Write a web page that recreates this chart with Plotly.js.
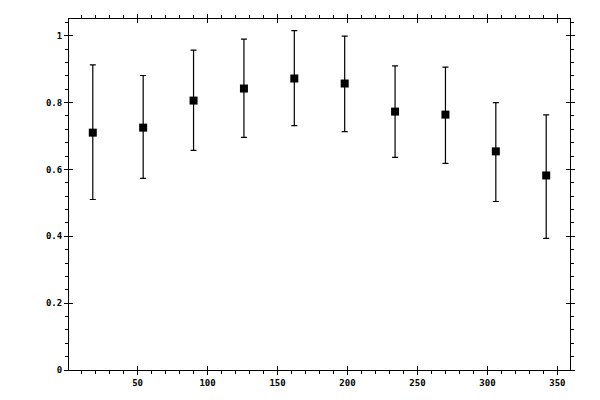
<!DOCTYPE html>
<html>
<head>
<meta charset="utf-8">
<script src="https://cdn.plot.ly/plotly-3.0.1.min.js"></script>
<style>
  html, body { margin: 0; padding: 0; background: #fff; }
  #plot { width: 600px; height: 400px; }
</style>
</head>
<body>
<div id="plot"></div>
<script>
const angles = [18, 54, 90, 126, 162, 198, 234, 270, 306, 342];
const values = [0.710, 0.725, 0.806, 0.842, 0.872, 0.857, 0.773, 0.764, 0.654, 0.582];
const errUp = [0.203, 0.156, 0.151, 0.148, 0.143, 0.142, 0.137, 0.142, 0.146, 0.181];
const errDown = [0.200, 0.152, 0.149, 0.146, 0.141, 0.144, 0.137, 0.146, 0.150, 0.188];

const xRange = [1, 359];
const yRange = [0, 1.05];

const tickFont = { family: 'DejaVu Sans Mono, monospace', size: 9, color: '#000', weight: 'bold' };

const trace = {
  x: angles,
  y: values,
  type: 'scatter',
  mode: 'markers',
  marker: { symbol: 'square', size: 8, color: '#000' },
  error_y: {
    type: 'data',
    symmetric: false,
    array: errUp,
    arrayminus: errDown,
    color: '#000',
    thickness: 1.2,
    width: 3
  },
  hoverinfo: 'skip'
};

// empty trace so the overlay axes (inner half of the major ticks) get drawn
const overlay = { x: [], y: [], xaxis: 'x2', yaxis: 'y2', type: 'scatter', hoverinfo: 'skip' };

const layout = {
  width: 600,
  height: 400,
  margin: { l: 69, r: 30, t: 19, b: 30, pad: 0 },
  paper_bgcolor: '#fff',
  plot_bgcolor: '#fff',
  showlegend: false,
  xaxis: {
    range: xRange,
    tick0: 0,
    dtick: 50,
    ticks: 'outside',
    ticklen: 4,
    tickwidth: 1,
    tickcolor: '#000',
    minor: { dtick: 10, tick0: 0, ticks: 'outside', ticklen: 3, tickcolor: '#000', showgrid: false },
    showline: true,
    linecolor: '#000',
    linewidth: 1,
    mirror: 'ticks',
    showgrid: false,
    zeroline: false,
    tickfont: tickFont
  },
  yaxis: {
    range: yRange,
    tick0: 0,
    dtick: 0.2,
    ticks: 'outside',
    ticklen: 4,
    tickwidth: 1,
    tickcolor: '#000',
    minor: { dtick: 0.04, tick0: 0, ticks: 'outside', ticklen: 3, tickcolor: '#000', showgrid: false },
    showline: true,
    linecolor: '#000',
    linewidth: 1,
    mirror: 'ticks',
    showgrid: false,
    zeroline: false,
    tickfont: tickFont
  },
  xaxis2: {
    overlaying: 'x',
    anchor: 'y2',
    range: xRange,
    tick0: 0,
    dtick: 50,
    ticks: 'inside',
    ticklen: 4,
    tickcolor: '#000',
    mirror: 'ticks',
    showline: false,
    showgrid: false,
    zeroline: false,
    showticklabels: false
  },
  yaxis2: {
    overlaying: 'y',
    anchor: 'x2',
    range: yRange,
    tick0: 0,
    dtick: 0.2,
    ticks: 'inside',
    ticklen: 4,
    tickcolor: '#000',
    mirror: 'ticks',
    showline: false,
    showgrid: false,
    zeroline: false,
    showticklabels: false
  }
};

Plotly.newPlot('plot', [trace, overlay], layout, { staticPlot: true, displayModeBar: false });
</script>
</body>
</html>
